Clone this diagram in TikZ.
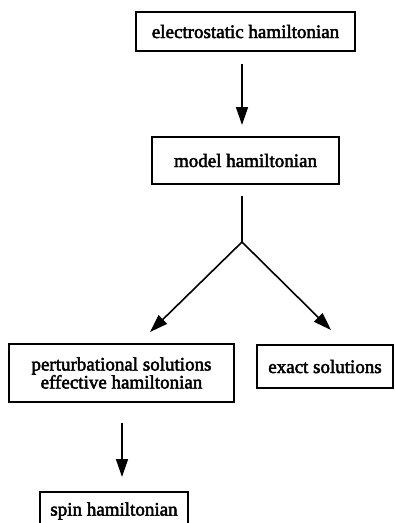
\documentclass[tikz,border=0pt]{standalone}
\usetikzlibrary{arrows.meta}
\font\thk="Liberation Serif:embolden=2.5" at 19pt
\begin{document}
\begin{tikzpicture}[x=1pt,y=-1pt,
  box/.style={draw,line width=2pt,inner sep=0pt,align=center,font={\thk\baselineskip=18pt}},
  conn/.style={line width=1.6pt},
  arr/.style={conn,-{Triangle[length=18pt,width=12pt]}}]
\useasboundingbox (0,0) rectangle (395,523);
\node[box,minimum width=219pt,minimum height=39pt] (b1) at (245.5,31.5) {electrostatic hamiltonian};
\node[box,minimum width=187pt,minimum height=47pt] (b2) at (245.5,160.5) {model hamiltonian};
\node[box,minimum width=225pt,minimum height=58pt] (b3) at (121.5,373) {perturbational solutions\\effective hamiltonian};
\node[box,minimum width=136pt,minimum height=43pt] (b4) at (325,366.5) {exact solutions};
\node[box,minimum width=148pt,minimum height=38pt] (b5) at (114,511) {spin hamiltonian};
\coordinate (s1) at (242,64);
\coordinate (e1) at (242,125);
\coordinate (s2) at (242,196);
\coordinate (j) at (242,242);
\coordinate (tl) at (150,332);
\coordinate (tr) at (331,330);
\coordinate (s3) at (122,423);
\coordinate (e3) at (122,477);
\draw[arr] (s1) -- (e1);
\draw[conn] (s2) -- (j);
\draw[arr] (j) -- (tl);
\draw[arr] (j) -- (tr);
\draw[arr] (s3) -- (e3);
\end{tikzpicture}
\end{document}
